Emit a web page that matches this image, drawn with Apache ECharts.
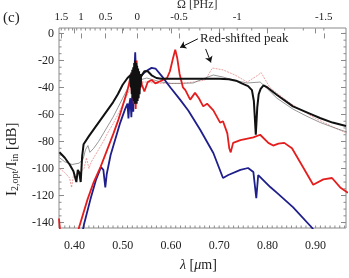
<!DOCTYPE html>
<html><head><meta charset="utf-8">
<script src="https://cdn.jsdelivr.net/npm/echarts@6/dist/echarts.min.js"></script>
<style>html,body{margin:0;padding:0;background:#fff}#c{width:349px;height:278px}</style>
</head><body><div id="c"></div>
<script>
// ---- data (wavelength in um, level in dB) ----
const blackThick = [[0.369,-88],[0.38,-92],[0.39,-97],[0.398,-102],[0.404,-110],[0.407,-101],[0.410,-103],[0.413,-110],[0.416,-91],[0.419,-82],[0.43,-76],[0.44,-71],[0.45,-66],[0.46,-61],[0.47,-56],[0.48,-51],[0.49,-45],[0.50,-38],[0.51,-33],[0.516,-31],[0.517,-40],[0.518,-29],[0.519,-45],[0.520,-27],[0.521,-48],[0.522,-25],[0.523,-50],[0.524,-22],[0.525,-52],[0.526,-20],[0.527,-50],[0.528,-22],[0.529,-52],[0.530,-24],[0.531,-50],[0.532,-26],[0.533,-48],[0.534,-28],[0.535,-45],[0.536,-30],[0.537,-40],[0.538,-32],[0.540,-31],[0.545,-28],[0.552,-28],[0.560,-31],[0.570,-33],[0.58,-33.5],[0.60,-33.5],[0.65,-33.5],[0.70,-33.5],[0.72,-34],[0.735,-35],[0.747,-37],[0.760,-39],[0.768,-42],[0.772,-50],[0.776,-75],[0.779,-55],[0.782,-45],[0.786,-41],[0.792,-38.5],[0.800,-40],[0.820,-45.6],[0.853,-54],[0.889,-59.5],[0.909,-62.6],[0.935,-66],[0.963,-68.5]];
const blueLine = [[0.415,-150],[0.42,-141],[0.433,-123],[0.445,-108],[0.455,-99],[0.460,-101],[0.464,-114],[0.467,-104],[0.475,-90],[0.485,-78],[0.495,-66],[0.505,-56],[0.510,-52],[0.512,-63],[0.514,-52],[0.516,-48],[0.518,-62],[0.520,-45],[0.522,-58],[0.524,-30],[0.526,-14],[0.5275,-28],[0.529,-40],[0.532,-34],[0.536,-32],[0.540,-31],[0.548,-28],[0.560,-25.5],[0.568,-26],[0.582,-32],[0.599,-40],[0.619,-49],[0.636,-57],[0.661,-71.5],[0.688,-88.5],[0.708,-107],[0.719,-104.8],[0.744,-101],[0.760,-99.6],[0.771,-102.6],[0.777,-122],[0.781,-104.8],[0.806,-113.7],[0.820,-118],[0.853,-128.5],[0.893,-144],[0.90,-148]];
const redLine = [[0.368,-137],[0.371,-150],[0.405,-150],[0.410,-143],[0.427,-123],[0.44,-110],[0.454,-99],[0.468,-86],[0.481,-74],[0.491,-64],[0.498,-56],[0.504,-49],[0.510,-42],[0.514,-36],[0.517,-30],[0.519,-45],[0.521,-32],[0.523,-52],[0.525,-26],[0.527,-56],[0.529,-20],[0.531,-48],[0.533,-30],[0.535,-42],[0.537,-33],[0.540,-38],[0.545,-43],[0.552,-36],[0.560,-34.5],[0.568,-37],[0.580,-35],[0.592,-33],[0.598,-28],[0.604,-19],[0.609,-12],[0.613,-18],[0.618,-30],[0.625,-40],[0.630,-42],[0.640,-49],[0.650,-44],[0.658,-48],[0.667,-54],[0.675,-52],[0.688,-57],[0.702,-66],[0.708,-65],[0.717,-74],[0.721,-85],[0.724,-88],[0.729,-81],[0.744,-79],[0.771,-77],[0.785,-75],[0.802,-81],[0.812,-83],[0.823,-81.5],[0.835,-81],[0.851,-85],[0.874,-99],[0.895,-112],[0.916,-108],[0.934,-107],[0.951,-114],[0.967,-118]];
const thinGray = [[0.369,-92],[0.38,-95],[0.395,-97],[0.41,-96],[0.418,-93],[0.423,-86],[0.428,-83],[0.432,-88],[0.44,-85],[0.45,-80],[0.46,-74],[0.47,-68],[0.48,-62],[0.49,-55],[0.50,-48],[0.51,-41],[0.52,-35],[0.525,-30],[0.53,-40],[0.535,-32],[0.54,-34],[0.55,-33],[0.56,-34],[0.58,-36],[0.60,-37],[0.62,-37],[0.646,-36.7],[0.671,-33],[0.688,-30.8],[0.708,-32.3],[0.735,-35],[0.758,-36.7],[0.785,-36],[0.80,-41],[0.82,-48],[0.853,-56],[0.88,-61],[0.91,-66],[0.94,-70],[0.965,-73]];
const thinRed = [[0.369,-100],[0.38,-103],[0.39,-107],[0.394,-114],[0.398,-105],[0.41,-103],[0.42,-100],[0.425,-92],[0.43,-100],[0.435,-95],[0.45,-86],[0.46,-80],[0.47,-73],[0.48,-67],[0.49,-60],[0.50,-53],[0.51,-45],[0.52,-38],[0.525,-30],[0.53,-45],[0.535,-35],[0.54,-36],[0.55,-36],[0.57,-37],[0.60,-37],[0.62,-37],[0.646,-36],[0.671,-34.5],[0.686,-25.6],[0.708,-27],[0.733,-30.8],[0.758,-36],[0.781,-30.8],[0.787,-29],[0.805,-40],[0.830,-47],[0.853,-53],[0.90,-63],[0.935,-69],[0.965,-74]];
const xTickValues = [0.40,0.50,0.60,0.70,0.80,0.90];
const yTickValues = [0,-20,-40,-60,-80,-100,-120,-140];
const omegaTicks = [1.5,1,0.5,0,-0.5,-1,-1.5];

// ---- geometry / conversion ----
const xMin = 0.368, xMax = 0.963, yMin = -144, yMax = 4;
const K = 2*Math.PI*0.299792;       // um * rad/fs
const lambda0 = 0.530;               // Omega = 0
const omega0 = K/lambda0;
const lamOf = W => K/(omega0 + W);
const omOf = l => K/l - omega0;

const FONT = 'Liberation Serif';
const TXT = '#222';
const FRAME = '#8a8a8a';

// minor tick list (side, value)
const minorTicks = [];
for (let i = 37; i <= 96; i++) { const v = i/100; if (v>xMin && v<xMax) minorTicks.push([0, v]); }
for (let i = -15; i <= 16; i++) { const l = lamOf(i/10); if (l>xMin && l<xMax) minorTicks.push([1, l]); }
for (let i = -28; i <= 0; i++) { const v = i*5; minorTicks.push([2, v]); minorTicks.push([3, v]); }

const chart = echarts.init(document.getElementById('c'), null, {renderer:'canvas'});
const option = {
  animation:false,
  backgroundColor:'#fff',
  grid:{left:59, right:3, top:28, bottom:50, show:true, borderColor:FRAME, borderWidth:1, backgroundColor:'transparent'},
  xAxis:[
    {type:'value', position:'bottom', min:xMin, max:xMax, axisLine:{show:false}, splitLine:{show:false},
     axisTick:{inside:true, length:5, customValues:xTickValues, lineStyle:{color:FRAME}},
     axisLabel:{customValues:xTickValues, formatter:v=>v.toFixed(2), margin:12, fontFamily:FONT, fontSize:12, color:TXT}},
    {type:'value', position:'top', min:xMin, max:xMax, axisLine:{show:false}, splitLine:{show:false},
     axisTick:{inside:true, length:5, customValues:omegaTicks.map(lamOf), lineStyle:{color:FRAME}},
     axisLabel:{customValues:omegaTicks.map(lamOf), formatter:v=>{let o=Math.round(omOf(v)*10)/10; if(Math.abs(o)<1e-9)o=0; return String(o);}, margin:5, fontFamily:FONT, fontSize:11, color:TXT}}
  ],
  yAxis:[
    {type:'value', position:'left', min:yMin, max:yMax, axisLine:{show:false}, splitLine:{show:false},
     axisTick:{inside:true, length:5, customValues:yTickValues, lineStyle:{color:FRAME}},
     axisLabel:{customValues:yTickValues, margin:5, fontFamily:FONT, fontSize:12, color:TXT}},
    {type:'value', position:'right', min:yMin, max:yMax, axisLine:{show:false}, splitLine:{show:false},
     axisTick:{inside:true, length:5, customValues:yTickValues, lineStyle:{color:FRAME}},
     axisLabel:{show:false}}
  ],
  graphic:[
    {type:'text', left:3, top:11, style:{text:'(c)', font:'15px "Liberation Serif"', fill:TXT}},
    {type:'text', x:177, y:-1, style:{text:'Ω [PHz]', font:'12px "Liberation Serif"', fill:'#333'}},
    {type:'text', x:180, y:258, style:{rich:{
        it:{fontFamily:FONT, fontStyle:'italic', fontSize:14, fill:TXT},
        n:{fontFamily:FONT, fontSize:14, fill:TXT}},
        text:'{it|λ}{n| [}{it|μ}{n|m]}'}},
    {type:'text', x:4, y:196, rotation:Math.PI/2, style:{rich:{
        n:{fontFamily:FONT, fontSize:15, fill:TXT},
        s:{fontFamily:FONT, fontSize:10, fill:TXT, verticalAlign:'bottom', padding:[6,0,0,0]}},
        text:'{n|I}{s|2,opt}{n|/I}{s|in}{n| [dB]}'}},
    {type:'text', x:200, y:32, style:{text:'Red-shifted peak', font:'13px "Liberation Serif"', fill:TXT}}
  ],
  series:[
    {type:'custom', xAxisIndex:0, yAxisIndex:0, silent:true, z:1, data:minorTicks,
     renderItem:(params, api)=>{
       const side = api.value(0), v = api.value(1), L = 2.5;
       let p, q;
       if (side===0){ p = api.coord([v, yMin]); q = [p[0], p[1]-L]; }
       else if (side===1){ p = api.coord([v, yMax]); q = [p[0], p[1]+L]; }
       else if (side===2){ p = api.coord([xMin, v]); q = [p[0]+L, p[1]]; }
       else { p = api.coord([xMax, v]); q = [p[0]-L, p[1]]; }
       return {type:'line', shape:{x1:p[0],y1:p[1],x2:q[0],y2:q[1]}, style:{stroke:FRAME, lineWidth:1}};
     }},
    {type:'line', name:'thin red', data:thinRed, showSymbol:false, symbol:'none', clip:true, lineStyle:{color:'#e88a8a', width:0.8, type:[2,1]}, z:2},
    {type:'line', name:'thin gray', data:thinGray, showSymbol:false, symbol:'none', clip:true, lineStyle:{color:'#6a6a6a', width:0.7}, z:2},
    {type:'line', name:'blue', data:blueLine, showSymbol:false, symbol:'none', clip:true, lineStyle:{color:'#1f1f8c', width:1.8}, z:3},
    {type:'line', name:'red', data:redLine, showSymbol:false, symbol:'none', clip:true, lineStyle:{color:'#e41e1e', width:1.8}, z:4},
    {type:'line', name:'black', data:blackThick, showSymbol:false, symbol:'none', clip:true, lineStyle:{color:'#111', width:2}, z:5,
     markLine:{silent:true, symbol:['none','arrow'], symbolSize:6, label:{show:false},
       lineStyle:{color:'#111', width:1, type:'solid'},
       data:[[{coord:[0.656,-4]},{coord:[0.619,-10.5]}],[{coord:[0.672,-11.5]},{coord:[0.683,-21.5]}]]}}
  ]
};
chart.setOption(option);
</script></body></html>
